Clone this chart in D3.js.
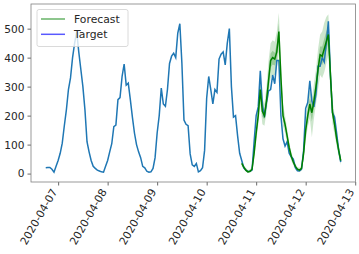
<!DOCTYPE html>
<html lang="en">
<head>
  <meta charset="UTF-8">
  <title>Forecast vs Target</title>
  <script src="https://d3js.org/d3.v7.min.js"></script>
  <style>
    body { margin: 0; background: #fff; }
    svg { display: block; }
    text { font-family: "DejaVu Sans", sans-serif; fill: #262626; }
  </style>
</head>
<body>
  <svg width="359" height="254"></svg>

  <script>
    const width = 359, height = 254;

    // hourly series, first point 2020-04-06 18:00
    const startTime = "2020-04-06T18:00:00";
    const target = [
      20, 21, 21, 15, 5, 25, 45, 70, 105, 165, 220, 290, 330, 400, 450, 490, 420, 360, 300, 220,
      110, 75, 45, 25, 18, 12, 9, 6, 5, 25, 45, 75, 103, 162, 167, 255, 262, 335, 378, 305,
      312, 255, 195, 140, 100, 75, 55, 25, 20, 8, 5, 6, 18, 55, 140, 200, 295, 240, 232, 290,
      380, 405, 415, 400, 485, 517, 380, 185, 170, 165, 68, 30, 25, 35, 6, 10, 20, 80, 260, 335,
      290, 240, 290, 280, 395, 412, 420, 375, 450, 500, 300, 195, 200, 130, 70, 45, 20, 12, 7, 8,
      12, 110, 200, 230, 355, 240, 195, 245, 285, 290, 340, 310, 390, 390, 200, 120, 95, 110, 70, 58,
      50, 20, 10, 9, 15, 80, 225, 245, 320, 250, 230, 275, 370, 370, 400, 385, 450, 525, 340, 210,
      195, 140, 80, 40
    ];

    // forecast starts at index 95 of the series
    const forecastStart = 95;
    const median = [
      35, 22, 12, 6, 8, 15, 70, 140, 200, 290, 215, 200, 250, 320, 390, 400, 395, 420, 490, 330,
      200, 170, 130, 90, 60, 40, 25, 15, 12, 18, 70, 150, 200, 240, 210, 250, 300, 360, 410, 405,
      430, 455, 480, 340, 210, 170, 120, 80, 45
    ];
    const low90 = [
      25, 15, 6, 2, 3, 8, 50, 110, 165, 240, 170, 165, 210, 270, 330, 340, 340, 360, 420, 280,
      165, 140, 105, 70, 45, 28, 15, 8, 6, 10, 50, 115, 160, 190, 125, 190, 240, 290, 340, 330,
      350, 380, 410, 280, 170, 135, 95, 60, 30
    ];
    const high90 = [
      45, 30, 20, 12, 14, 25, 95, 170, 240, 340, 260, 240, 300, 390, 450, 460, 455, 490, 555, 390,
      240, 200, 155, 110, 75, 52, 35, 22, 20, 28, 95, 185, 250, 290, 260, 310, 360, 430, 480, 490,
      520, 540, 550, 400, 250, 205, 145, 100, 60
    ];
    const low50 = [
      31, 19, 9, 4, 6, 12, 62, 128, 186, 270, 197, 186, 234, 297, 366, 376, 373, 394, 462, 310,
      186, 158, 120, 82, 54, 35, 21, 12, 9, 15, 62, 136, 182, 220, 180, 226, 276, 332, 382, 375,
      398, 425, 452, 316, 194, 156, 110, 72, 39
    ];
    const high50 = [
      39, 25, 15, 8, 10, 18, 80, 152, 216, 310, 233, 216, 270, 348, 414, 424, 417, 448, 518, 352,
      216, 182, 140, 98, 66, 45, 29, 18, 15, 21, 80, 164, 220, 260, 240, 274, 324, 388, 438, 438,
      465, 490, 508, 366, 226, 184, 130, 88, 51
    ];

    const legendLabels = ["Forecast", "Target"];
    const tickDays = ["2020-04-07", "2020-04-08", "2020-04-09", "2020-04-10", "2020-04-11", "2020-04-12", "2020-04-13"];

    const parse = d3.timeParse("%Y-%m-%dT%H:%M:%S");
    const t0 = parse(startTime);
    const hour = 3600 * 1000;
    const timeAt = i => new Date(t0.getTime() + i * hour);

    const targetData = target.map((v, i) => ({ t: timeAt(i), v }));
    const fcData = median.map((v, i) => ({
      t: timeAt(forecastStart + i), v,
      lo90: low90[i], hi90: high90[i], lo50: low50[i], hi50: high50[i]
    }));

    const margin = { left: 31, right: 3.5, top: 4, bottom: 72 };
    const pad = (target.length - 1) * 0.05 * hour;
    const x = d3.scaleTime()
      .domain([new Date(t0.getTime() - pad), new Date(timeAt(target.length - 1).getTime() + pad)])
      .range([margin.left, width - margin.right]);
    const y = d3.scaleLinear()
      .domain([-29, 585])
      .range([height - margin.bottom, margin.top]);

    const svg = d3.select("svg");

    // confidence bands
    const band = (lo, hi) => d3.area().x(d => x(d.t)).y0(d => y(d[lo])).y1(d => y(d[hi]));
    svg.append("path").datum(fcData)
      .attr("d", band("lo90", "hi90"))
      .attr("fill", "green").attr("fill-opacity", 0.2);
    svg.append("path").datum(fcData)
      .attr("d", band("lo50", "hi50"))
      .attr("fill", "green").attr("fill-opacity", 0.25);

    const line = d3.line().x(d => x(d.t)).y(d => y(d.v));

    svg.append("path").datum(targetData)
      .attr("d", line)
      .attr("fill", "none").attr("stroke", "#1f77b4").attr("stroke-width", 1.5);

    svg.append("path").datum(fcData)
      .attr("d", line)
      .attr("fill", "none").attr("stroke", "green").attr("stroke-width", 1.5);

    // axes
    const xAxis = d3.axisBottom(x)
      .tickValues(tickDays.map(d3.timeParse("%Y-%m-%d")))
      .tickFormat(d3.timeFormat("%Y-%m-%d"))
      .tickSize(3.5).tickPadding(3);
    const gx = svg.append("g")
      .attr("transform", `translate(0,${height - margin.bottom})`)
      .call(xAxis);
    gx.selectAll("text")
      .attr("font-size", 10.8)
      .attr("text-anchor", "end")
      .attr("dy", null)
      .attr("y", 0)
      .attr("transform", "translate(-1,9.5) rotate(-60)");

    const yAxis = d3.axisLeft(y).tickValues([0, 100, 200, 300, 400, 500]).tickSize(3.5).tickPadding(3);
    const gy = svg.append("g")
      .attr("transform", `translate(${margin.left},0)`)
      .call(yAxis);
    gy.selectAll("text").attr("font-size", 10.6);

    [gx, gy].forEach(g => {
      g.select(".domain").remove();
      g.selectAll(".tick line").attr("stroke", "#444").attr("stroke-width", 0.8);
    });

    // frame
    svg.append("rect")
      .attr("x", margin.left).attr("y", margin.top)
      .attr("width", width - margin.right - margin.left)
      .attr("height", height - margin.bottom - margin.top)
      .attr("fill", "none").attr("stroke", "#808080").attr("stroke-width", 0.8);

    // legend
    const lg = svg.append("g").attr("transform", "translate(37,9.5)");
    lg.append("rect")
      .attr("width", 91).attr("height", 37).attr("rx", 2)
      .attr("fill", "#fff").attr("fill-opacity", 0.8)
      .attr("stroke", "#d0d0d0").attr("stroke-width", 0.8);
    const legendColors = ["rgba(0,128,0,0.6)", "rgba(0,0,255,0.65)"];
    legendLabels.forEach((lab, i) => {
      const yy = 9.5 + i * 15.3;
      lg.append("line")
        .attr("x1", 4).attr("x2", 28).attr("y1", yy).attr("y2", yy)
        .attr("stroke", legendColors[i]).attr("stroke-width", 1.5);
      lg.append("text")
        .attr("x", 37).attr("y", yy).attr("dy", "0.35em")
        .attr("font-size", 10.8).text(lab);
    });
  </script>
</body>
</html>
